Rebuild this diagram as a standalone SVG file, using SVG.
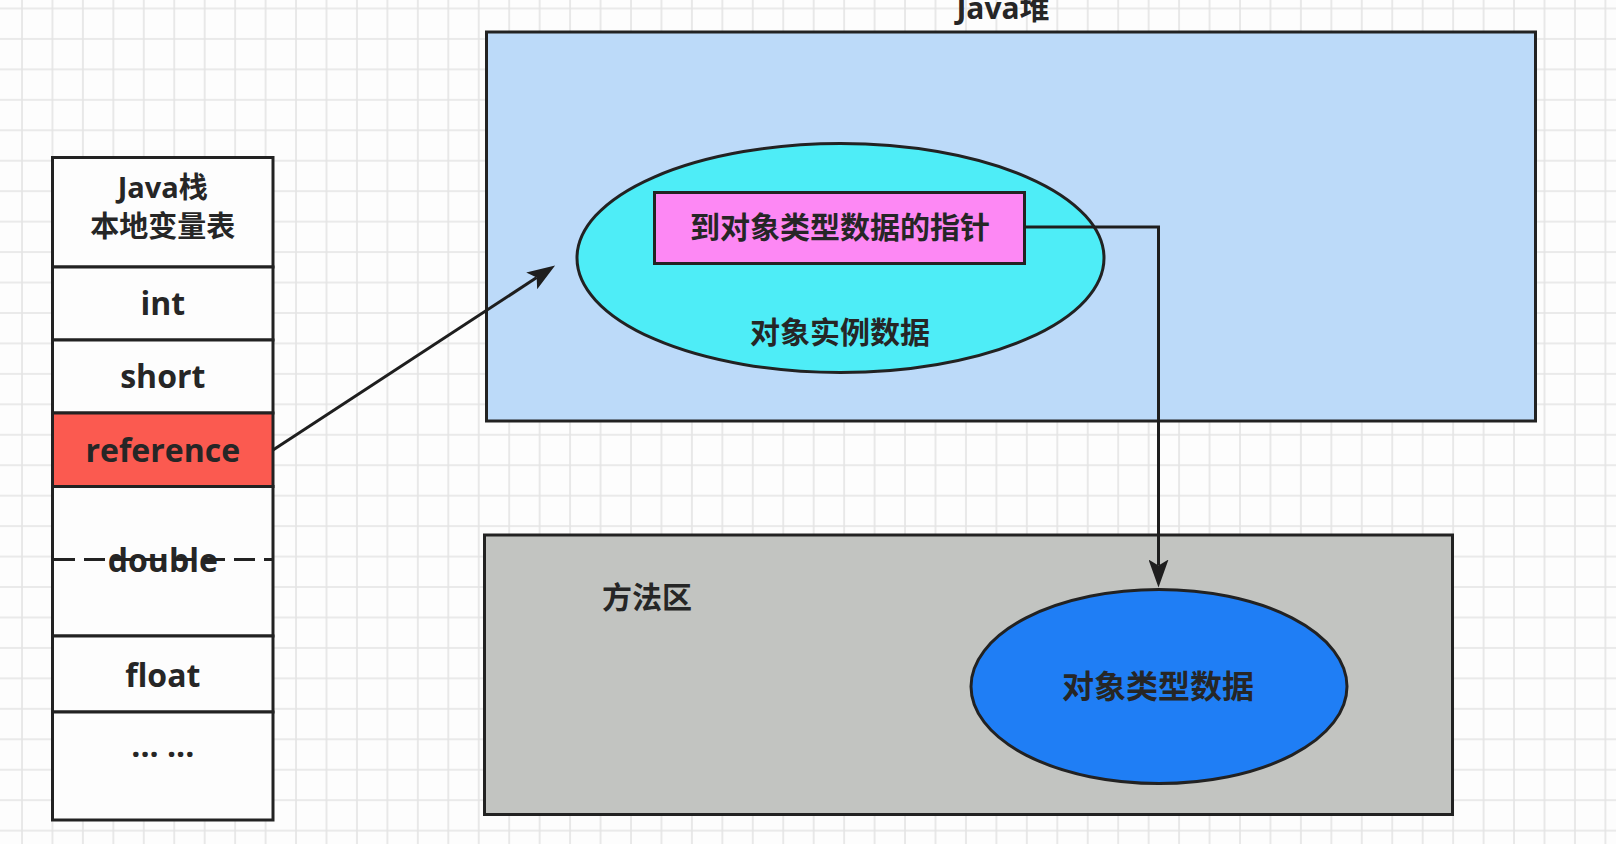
<svg xmlns="http://www.w3.org/2000/svg" width="1616" height="844" viewBox="0 0 1616 844">
  <defs>
    <pattern id="grid" patternUnits="userSpaceOnUse" x="21" y="7.5" width="30.45" height="30.45">
      <path d="M0,1 H30.45 M1,0 V30.45" stroke="#e4e4e4" stroke-width="1.6" fill="none"/>
    </pattern>
    <marker id="arrow" markerUnits="userSpaceOnUse" viewBox="0 0 28 20" markerWidth="28" markerHeight="20" refX="6" refY="10" orient="auto">
      <path d="M0,0 L28,10 L0,20 L6,10 Z" fill="#1e1e1e"/>
    </marker>
    <style>
      .box { stroke: #222; stroke-width: 3; }
      .cell { fill: #fdfdfd; stroke: #222; stroke-width: 3; }
      .t { font-family: "Open Sans", "Noto Sans CJK SC", sans-serif; font-weight: bold; fill: #262626; text-anchor: middle; }
      .s32 { font-size: 32px; }
      .s30 { font-size: 30px; }
      .s29 { font-size: 29px; }
      .conn { fill: none; stroke: #1e1e1e; stroke-width: 3; }
    </style>
  </defs>

  <rect x="0" y="0" width="1616" height="844" fill="#fdfdfd"/>
  <rect x="0" y="0" width="1616" height="844" fill="url(#grid)"/>

  <!-- Java heap -->
  <g id="java-heap">
    <rect class="box" x="486.5" y="32" width="1049" height="389" fill="#bcdaf9"/>
    <text class="t s30" x="1003" y="19">Java堆</text>
  </g>

  <g id="object-instance-data">
    <ellipse class="box" cx="840.5" cy="258" rx="263.5" ry="114.5" fill="#4eedf7"/>
    <text class="t s30" x="840" y="343">对象实例数据</text>
  </g>

  <g id="type-pointer">
    <rect class="box" x="654.5" y="192.5" width="370" height="71" fill="#fd88f4"/>
    <text class="t s30" x="840" y="238">到对象类型数据的指针</text>
  </g>

  <!-- Method area -->
  <g id="method-area">
    <rect class="box" x="484.5" y="535" width="968" height="279.5" fill="#c2c4c1"/>
    <text class="t s30" x="602" y="608" style="text-anchor:start">方法区</text>
  </g>

  <g id="object-type-data">
    <ellipse class="box" cx="1159" cy="686.5" rx="188" ry="97" fill="#1f7ef5"/>
    <text class="t s32" x="1158" y="698">对象类型数据</text>
  </g>

  <!-- Java stack / local variable table -->
  <g id="java-stack">
    <g id="stack-header">
      <rect class="cell" x="52.5" y="157.5" width="220.5" height="109.5"/>
      <text class="t s29" x="162.8" y="198">Java栈</text>
      <text class="t s29" x="162.8" y="237">本地变量表</text>
    </g>
    <g id="stack-int">
      <rect class="cell" x="52.5" y="267" width="220.5" height="73"/>
      <text class="t s32" x="162.8" y="315">int</text>
    </g>
    <g id="stack-short">
      <rect class="cell" x="52.5" y="340" width="220.5" height="73"/>
      <text class="t s32" x="162.8" y="388">short</text>
    </g>
    <g id="stack-reference">
      <rect class="cell" x="52.5" y="413" width="220.5" height="73.5" style="fill:#fb5a50"/>
      <text class="t s32" x="162.8" y="461.5">reference</text>
    </g>
    <g id="stack-double">
      <rect class="cell" x="52.5" y="486.5" width="220.5" height="149.5"/>
      <text class="t s32" x="162.8" y="572">double</text>
      <line x1="54" y1="559.5" x2="272" y2="559.5" stroke="#222" stroke-width="3" stroke-dasharray="21 9"/>
    </g>
    <g id="stack-float">
      <rect class="cell" x="52.5" y="636" width="220.5" height="76"/>
      <text class="t s32" x="162.8" y="686.5">float</text>
    </g>
    <g id="stack-more">
      <rect class="cell" x="52.5" y="712" width="220.5" height="108"/>
      <text class="t s32" x="162.8" y="757">... ...</text>
    </g>
  </g>

  <!-- Connectors -->
  <g id="connectors">
    <path class="conn" d="M273,450 L536.7,277.6" marker-end="url(#arrow)"/>
    <path class="conn" d="M1024.5,227 H1158.5 V565.5" marker-end="url(#arrow)"/>
  </g>
</svg>
